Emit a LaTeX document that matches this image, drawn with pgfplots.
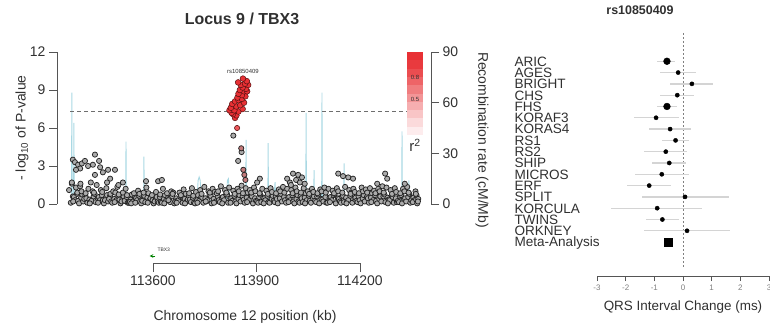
\documentclass[border=0pt]{standalone}
\usepackage{pgfplots}
\pgfplotsset{compat=1.18}
\usepackage{pgfplotstable}
\usepackage{fontspec}
\setmainfont{Liberation Sans}
\definecolor{txt}{HTML}{303030}
\definecolor{axc}{HTML}{555555}
\definecolor{lzred}{RGB}{232,48,52}
\definecolor{lzdark}{HTML}{5A1212}
\definecolor{recomb}{HTML}{A9D8E3}
\definecolor{ptfill}{HTML}{ABABAB}
\definecolor{ptdraw}{HTML}{242424}
\definecolor{cigray}{HTML}{D4D4D4}
\newcommand\fs[1]{\fontsize{#1}{#1}\selectfont}
\tikzset{lab/.style={font=\fs{13.6}, text=txt, anchor=base west, yshift=-4.9bp}}
\pgfplotstableread{
row est lo hi
1 -0.56 -0.90 -0.28
2 -0.17 -0.80 0.45
3 0.31 -0.45 1.05
4 -0.20 -0.80 0.38
5 -0.56 -0.90 -0.20
6 -0.94 -1.70 -0.14
7 -0.45 -1.18 0.28
8 -0.26 -0.74 0.20
9 -0.60 -1.36 0.14
10 -0.48 -1.08 0.11
11 -0.74 -1.67 0.22
12 -1.18 -1.95 -0.42
13 0.07 -1.43 1.60
14 -0.90 -2.50 0.66
15 -0.72 -1.30 -0.14
16 0.14 -1.36 1.63
}\forestdata
\begin{document}
\begin{tikzpicture}[x=1bp,y=1bp]
\pgfplotsset{
  lzbase/.style={scale only axis, width=374bp, height=152bp, at={(57bp,124bp)}, anchor=south west,
    xmin=113322, xmax=114406, clip=false, axis x line=none,
    tick align=outside, major tick length=8bp,
    axis line style={axc, line width=0.8bp}, tick style={axc, line width=0.8bp},
    ticklabel style={font=\fs{14}, text=txt},
    /pgf/number format/assume math mode=true},
}
% recombination rate (right axis)
\begin{axis}[lzbase, ymin=0, ymax=90, axis y line*=right, ytick={0,30,60,90}]
\addplot[recomb, line width=0.9bp] coordinates {
(113360,1) (113364,2) (113365,66) (113366,3) (113370,3) (113371,48) (113372,2)
(113400,1.5) (113430,1) (113470,2) (113500,1) (113521,1.5) (113522,37) (113523,1.5)
(113550,1) (113573,1.5) (113574,28) (113575,1.5) (113600,2) (113640,1) (113680,1.5)
(113720,2) (113728,3) (113731,14) (113734,16) (113737,14) (113740,3) (113760,2)
(113790,2) (113813,3) (113816,14) (113819,15) (113822,3) (113850,2) (113869,2)
(113870,38) (113871,2) (113900,1.5) (113933,2) (113934,36) (113935,2) (113950,1.5)
(113954,13) (113956,2) (114000,1.5) (114043,2) (114044,54) (114045,2) (114066,2)
(114067,20) (114068,2) (114089,2) (114090,66) (114091,2) (114120,1.5) (114153,2)
(114154,24) (114155,2) (114200,1.5) (114250,2) (114290,1.5) (114321,2) (114322,43)
(114323,2) (114341,2) (114342,14) (114343,2) (114366,1)};
\end{axis}
% association p-values (left axis)
\begin{axis}[lzbase, ymin=0, ymax=12, axis y line*=left, ytick={0,3,6,9,12}]
\addplot[axc!85, line width=1.4bp, dash pattern=on 4bp off 3bp] coordinates {(113360,7.3) (114340,7.3)};
\addplot[only marks, mark=*, mark size=2.6bp, mark options={fill=ptfill, draw=ptdraw, line width=0.75bp}] coordinates {
(113362,0.1) (113368,0.6) (113357,1.1) (113365,1.6) (113371,0.55)
(113374,0.3) (113380,0.8) (113369,0.2) (113377,1.3) (113383,0.25)
(113386,0.05) (113392,0.5) (113381,0.9) (113389,1.4) (113395,0.75)
(113398,0.2) (113404,0.7) (113393,1.0) (113401,0.4) (113407,0.45)
(113410,0.1) (113416,0.35) (113405,0.85) (113413,1.2) (113419,0.15)
(113422,0.25) (113428,0.6) (113417,0.05) (113425,1.0) (113431,0.8)
(113434,0.15) (113440,0.45) (113429,0.9) (113437,1.5) (113443,0.55)
(113446,0.3) (113452,0.7) (113441,0.1) (113449,1.1) (113455,0.3)
(113458,0.05) (113464,0.5) (113453,0.95) (113461,0.3) (113467,0.7)
(113470,0.2) (113476,0.65) (113465,1.25) (113473,0.4) (113479,0.2)
(113482,0.1) (113488,0.4) (113477,0.8) (113485,1.0) (113491,0.9)
(113494,0.3) (113500,0.6) (113489,0.15) (113497,1.35) (113503,0.35)
(113506,0.05) (113512,0.45) (113501,0.75) (113509,0.2) (113515,0.6)
(113518,0.25) (113524,0.55) (113513,0.9) (113521,1.2) (113527,0.1)
(113530,0.1) (113536,0.35) (113525,0.7) (113533,0.15) (113539,0.75)
(113542,0.2) (113548,0.5) (113537,0.05) (113545,0.85) (113551,0.45)
(113554,0.3) (113560,0.65) (113549,0.1) (113557,1.05) (113563,0.2)
(113566,0.05) (113572,0.4) (113561,0.8) (113569,0.25) (113575,0.65)
(113578,0.15) (113584,0.5) (113573,0.9) (113581,1.3) (113587,0.85)
(113590,0.3) (113596,0.6) (113585,0.1) (113593,0.45) (113599,0.3)
(113602,0.05) (113608,0.35) (113597,0.7) (113605,0.2) (113611,0.55)
(113614,0.2) (113620,0.55) (113609,0.95) (113617,0.1) (113623,0.15)
(113626,0.1) (113632,0.4) (113621,0.75) (113629,1.2) (113635,0.7)
(113638,0.25) (113644,0.5) (113633,0.05) (113641,0.85) (113647,0.4)
(113650,0.15) (113656,0.6) (113645,0.3) (113653,1.0) (113659,0.9)
(113662,0.05) (113668,0.45) (113657,0.8) (113665,0.2) (113671,0.25)
(113674,0.3) (113680,0.55) (113669,0.1) (113677,0.9) (113683,0.6)
(113686,0.1) (113692,0.4) (113681,0.7) (113689,1.15) (113695,0.8)
(113698,0.2) (113704,0.6) (113693,0.05) (113701,0.35) (113707,0.35)
(113710,0.15) (113716,0.5) (113705,0.85) (113713,1.25) (113719,0.1)
(113722,0.05) (113728,0.3) (113717,0.65) (113725,0.95) (113731,0.7)
(113734,0.25) (113740,0.55) (113729,0.1) (113737,1.1) (113743,0.5)
(113746,0.1) (113752,0.45) (113741,0.8) (113749,1.35) (113755,0.2)
(113758,0.3) (113764,0.7) (113753,0.2) (113761,1.0) (113767,0.65)
(113770,0.05) (113776,0.4) (113765,0.9) (113773,1.2) (113779,0.95)
(113782,0.2) (113788,0.6) (113777,0.1) (113785,0.85) (113791,0.3)
(113794,0.15) (113800,0.5) (113789,1.0) (113797,1.4) (113803,0.55)
(113806,0.3) (113812,0.75) (113801,0.05) (113809,1.1) (113815,0.75)
(113818,0.1) (113824,0.45) (113813,0.9) (113821,1.3) (113827,0.45)
(113830,0.25) (113836,0.65) (113825,0.1) (113833,1.05) (113839,0.2)
(113842,0.05) (113848,0.4) (113837,0.8) (113845,1.2) (113851,0.7)
(113854,0.2) (113860,0.6) (113849,1.0) (113857,1.45) (113863,0.35)
(113866,0.1) (113872,0.5) (113861,0.85) (113869,1.25) (113875,0.9)
(113878,0.3) (113884,0.7) (113873,0.15) (113881,1.1) (113887,0.6)
(113890,0.05) (113896,0.45) (113885,0.9) (113893,1.3) (113899,0.25)
(113902,0.2) (113908,0.55) (113897,1.0) (113905,0.1) (113911,0.75)
(113914,0.15) (113920,0.5) (113909,0.85) (113917,1.2) (113923,0.45)
(113926,0.3) (113932,0.65) (113921,0.05) (113929,1.05) (113935,0.15)
(113938,0.1) (113944,0.4) (113933,0.8) (113941,1.25) (113947,0.65)
(113950,0.25) (113956,0.6) (113945,0.95) (113953,0.15) (113959,0.4)
(113962,0.05) (113968,0.45) (113957,0.85) (113965,1.15) (113971,0.8)
(113974,0.2) (113980,0.55) (113969,1.0) (113977,1.35) (113983,0.3)
(113986,0.1) (113992,0.5) (113981,0.9) (113989,1.2) (113995,0.55)
(113998,0.3) (114004,0.7) (113993,0.15) (114001,1.1) (114007,0.2)
(114010,0.05) (114016,0.4) (114005,0.85) (114013,1.3) (114019,0.7)
(114022,0.2) (114028,0.6) (114017,1.0) (114025,0.1) (114031,0.45)
(114034,0.15) (114040,0.5) (114029,0.9) (114037,1.25) (114043,0.85)
(114046,0.3) (114052,0.65) (114041,0.05) (114049,1.0) (114055,0.25)
(114058,0.1) (114064,0.45) (114053,0.8) (114061,1.2) (114067,0.6)
(114070,0.25) (114076,0.6) (114065,0.95) (114073,0.15) (114079,0.75)
(114082,0.05) (114088,0.4) (114077,0.85) (114085,1.15) (114091,0.35)
(114094,0.2) (114100,0.55) (114089,1.0) (114097,1.3) (114103,0.1)
(114106,0.1) (114112,0.5) (114101,0.9) (114109,1.2) (114115,0.55)
(114118,0.3) (114124,0.7) (114113,0.15) (114121,1.05) (114127,0.8)
(114130,0.05) (114136,0.45) (114125,0.85) (114133,1.25) (114139,0.4)
(114142,0.2) (114148,0.6) (114137,1.0) (114145,0.1) (114151,0.65)
(114154,0.15) (114160,0.5) (114149,0.9) (114157,1.35) (114163,0.2)
(114166,0.3) (114172,0.65) (114161,0.05) (114169,1.1) (114175,0.9)
(114178,0.1) (114184,0.4) (114173,0.8) (114181,1.2) (114187,0.5)
(114190,0.25) (114196,0.6) (114185,0.95) (114193,0.15) (114199,0.3)
(114202,0.05) (114208,0.45) (114197,0.85) (114205,1.3) (114211,0.7)
(114214,0.2) (114220,0.55) (114209,1.0) (114217,1.15) (114223,0.45)
(114226,0.1) (114232,0.5) (114221,0.9) (114229,1.25) (114235,0.85)
(114238,0.3) (114244,0.7) (114233,0.15) (114241,1.05) (114247,0.25)
(114250,0.05) (114256,0.4) (114245,0.85) (114253,1.2) (114259,0.6)
(114262,0.2) (114268,0.6) (114257,1.0) (114265,1.4) (114271,0.75)
(114274,0.15) (114280,0.5) (114269,0.9) (114277,1.3) (114283,0.35)
(114286,0.3) (114292,0.65) (114281,0.05) (114289,1.1) (114295,0.55)
(114298,0.1) (114304,0.45) (114293,0.8) (114301,1.25) (114307,0.15)
(114310,0.25) (114316,0.6) (114305,0.95) (114313,0.15) (114319,0.7)
(114322,0.05) (114328,0.4) (114317,0.85) (114325,1.2) (114331,0.45)
(114334,0.2) (114340,0.55) (114329,1.0) (114337,1.35) (114343,0.8)
(114346,0.1) (114352,0.5) (114341,0.9) (114349,0.3) (114355,0.5)
(114358,0.3) (114364,0.7) (114353,0.15) (114361,1.0) (114363,0.35)
(114366,0.05) (114369,0.4) (114362,0.8) (114368,0.2)
(113368,3.5) (113374,3.3) (113383,3.1) (113394,3.2) (113403,3.4) (113389,2.8) (113377,2.7) (113412,3.0)
(113432,3.9) (113426,3.1) (113444,3.4) (113447,2.9) (113455,2.5) (113432,2.3) (113470,2.7) (113490,2.7)
(113476,2.0) (113467,1.7) (113365,1.7) (113513,1.7) (113580,1.8) (113615,1.8) (113626,1.9) (113390,1.6)
(113420,1.7) (113500,1.5) (113833,5.4) (113857,4.1) (113847,3.4) (113910,2.0) (113902,1.7) (114006,2.4)
(114021,2.3) (114032,2.1) (113997,1.7) (114015,1.9) (114026,1.7) (113989,2.0) (114137,2.4) (114151,2.2)
(114166,2.1) (114180,2.0) (114273,2.4) (114279,2.0) (114000,1.5) (114040,1.6) (114250,1.6) (114330,1.6)};
\addplot[only marks, mark=*, mark size=2.6bp, mark options={fill=lzred!40!ptfill, draw=ptdraw, line width=0.75bp}] coordinates {
(113856,4.4) (113862,2.7) (113865,2.3) (113868,1.9)};
\addplot[only marks, mark=*, mark size=2.6bp, mark options={fill=lzred!80, draw=lzdark, line width=0.6bp}] coordinates {
(113844,6.0)};
\addplot[only marks, mark=*, mark size=2.9bp, mark options={fill=lzred, draw=lzdark, line width=0.5bp}] coordinates {
(113838,6.8) (113842,7.0) (113832,7.1) (113828,7.2) (113848,7.3) (113822,7.4) (113836,7.4) (113860,7.5)
(113826,7.6) (113842,7.7) (113853,7.8) (113830,7.9) (113864,8.0) (113838,8.1) (113848,8.2) (113858,8.3)
(113845,8.4) (113868,8.5) (113858,8.6) (113848,8.7) (113864,8.9) (113873,8.9) (113852,9.0) (113870,9.1)
(113860,9.2) (113855,9.4) (113876,9.4) (113867,9.5) (113847,9.6) (113872,9.7) (113861,9.9)};
\node[font=\fs{6}, text=txt] at (axis cs:113861,10.45) {rs10850409};
\end{axis}
% colour key
\fill[lzred] (407,276) rectangle (423,267.7);
\fill[lzred!95] (407,267.7) rectangle (423,259.4);
\fill[lzred!86] (407,259.4) rectangle (423,251.1);
\fill[lzred!75] (407,251.1) rectangle (423,242.8);
\fill[lzred!63] (407,242.8) rectangle (423,234.5);
\fill[lzred!51] (407,234.5) rectangle (423,226.2);
\fill[lzred!39] (407,226.2) rectangle (423,217.9);
\fill[lzred!28] (407,217.9) rectangle (423,209.6);
\fill[lzred!18] (407,209.6) rectangle (423,201.3);
\fill[lzred!9] (407,201.3) rectangle (423,193);
\node[font=\fs{6}, text=txt] at (415,251) {0.8};
\node[font=\fs{6}, text=txt] at (415,229) {0.5};
\node[font=\fs{15}, text=txt] at (415,183) {r\textsuperscript{2}};
\node[font=\bfseries\fs{16}, text=txt] at (242,309) {Locus 9 / TBX3};
\node[font=\fs{14}, text=txt, rotate=90] at (22,200) {- log\textsubscript{10} of P-value};
\node[font=\fs{14}, text=txt, rotate=-90] at (482,188) {Recombination rate (cM/Mb)};
% position axis
\begin{axis}[scale only axis, width=207bp, height=14bp, at={(153bp,65bp)}, anchor=south west,
  xmin=113600, xmax=114200, ymin=0, ymax=1, clip=false, axis y line=none, axis x line*=bottom,
  xtick={113600,113900,114200}, tick align=outside, major tick length=9bp,
  axis line style={axc, line width=0.8bp}, tick style={axc, line width=0.8bp},
  scaled x ticks=false,
  xticklabel style={font=\fs{14}, text=txt, /pgf/number format/1000 sep={}, /pgf/number format/fixed, /pgf/number format/precision=0},
  /pgf/number format/assume math mode=true]
\addplot[green!50!black, -stealth, line width=0.7bp] coordinates {(113607,0.5) (113590,0.5)};
\node[font=\fs{5}, text=txt, anchor=west] at (axis cs:113603,0.95) {TBX3};
\end{axis}
\node[font=\fs{14}, text=txt] at (245,11) {Chromosome 12 position (kb)};
% forest plot
\begin{axis}[scale only axis, width=172bp, height=243bp, at={(597bp,52bp)}, anchor=south west,
  xmin=-3, xmax=3, ymin=-1.5, ymax=20, y dir=reverse, clip=false,
  axis y line=none, axis x line*=bottom, xtick={-3,-2,-1,0,1,2,3}, tick align=outside, major tick length=5bp,
  axis line style={axc, line width=0.7bp}, tick style={axc, line width=0.7bp},
  xticklabel style={font=\fs{8}, text=gray},
  /pgf/number format/assume math mode=true]
\addplot[gray, line width=0.5bp, dash pattern=on 2bp off 2bp] coordinates {(0,-1.5) (0,19.3)};
\addplot[draw=none, mark=none, error bars/.cd, x dir=both, x explicit, error mark=none,
  error bar style={draw=cigray, line width=1.3bp}]
  table[x=est, y=row, x error plus expr=\thisrow{hi}-\thisrow{est}, x error minus expr=\thisrow{est}-\thisrow{lo}] {\forestdata};
\addplot[only marks, mark=*, mark size=2.1bp, black] coordinates {
(-0.17,2) (0.31,3) (-0.20,4) (-0.94,6) (-0.45,7) (-0.26,8) (-0.60,9) (-0.48,10)
(-0.74,11) (-1.18,12) (0.07,13) (-0.90,14) (-0.72,15) (0.14,16)};
\addplot[only marks, mark=*, mark size=3.4bp, black] coordinates {(-0.56,1) (-0.56,5)};
\addplot[only marks, mark=square*, mark size=4bp, black] coordinates {(-0.50,17)};
\node[lab] at (axis cs:-6,1) {ARIC};
\node[lab] at (axis cs:-6,2) {AGES};
\node[lab] at (axis cs:-6,3) {BRIGHT};
\node[lab] at (axis cs:-6,4) {CHS};
\node[lab] at (axis cs:-6,5) {FHS};
\node[lab] at (axis cs:-6,6) {KORAF3};
\node[lab] at (axis cs:-6,7) {KORAS4};
\node[lab] at (axis cs:-6,8) {RS1};
\node[lab] at (axis cs:-6,9) {RS2};
\node[lab] at (axis cs:-6,10) {SHIP};
\node[lab] at (axis cs:-6,11) {MICROS};
\node[lab] at (axis cs:-6,12) {ERF};
\node[lab] at (axis cs:-6,13) {SPLIT};
\node[lab] at (axis cs:-6,14) {KORCULA};
\node[lab] at (axis cs:-6,15) {TWINS};
\node[lab] at (axis cs:-6,16) {ORKNEY};
\node[lab] at (axis cs:-6,17) {Meta-Analysis};
\end{axis}
\node[font=\bfseries\fs{12.5}, text=txt] at (640,318) {rs10850409};
\node[font=\fs{13.5}, text=txt] at (683,21) {QRS Interval Change (ms)};
\pgfresetboundingbox
\useasboundingbox (0,0) rectangle (770,328);
\end{tikzpicture}
\end{document}
